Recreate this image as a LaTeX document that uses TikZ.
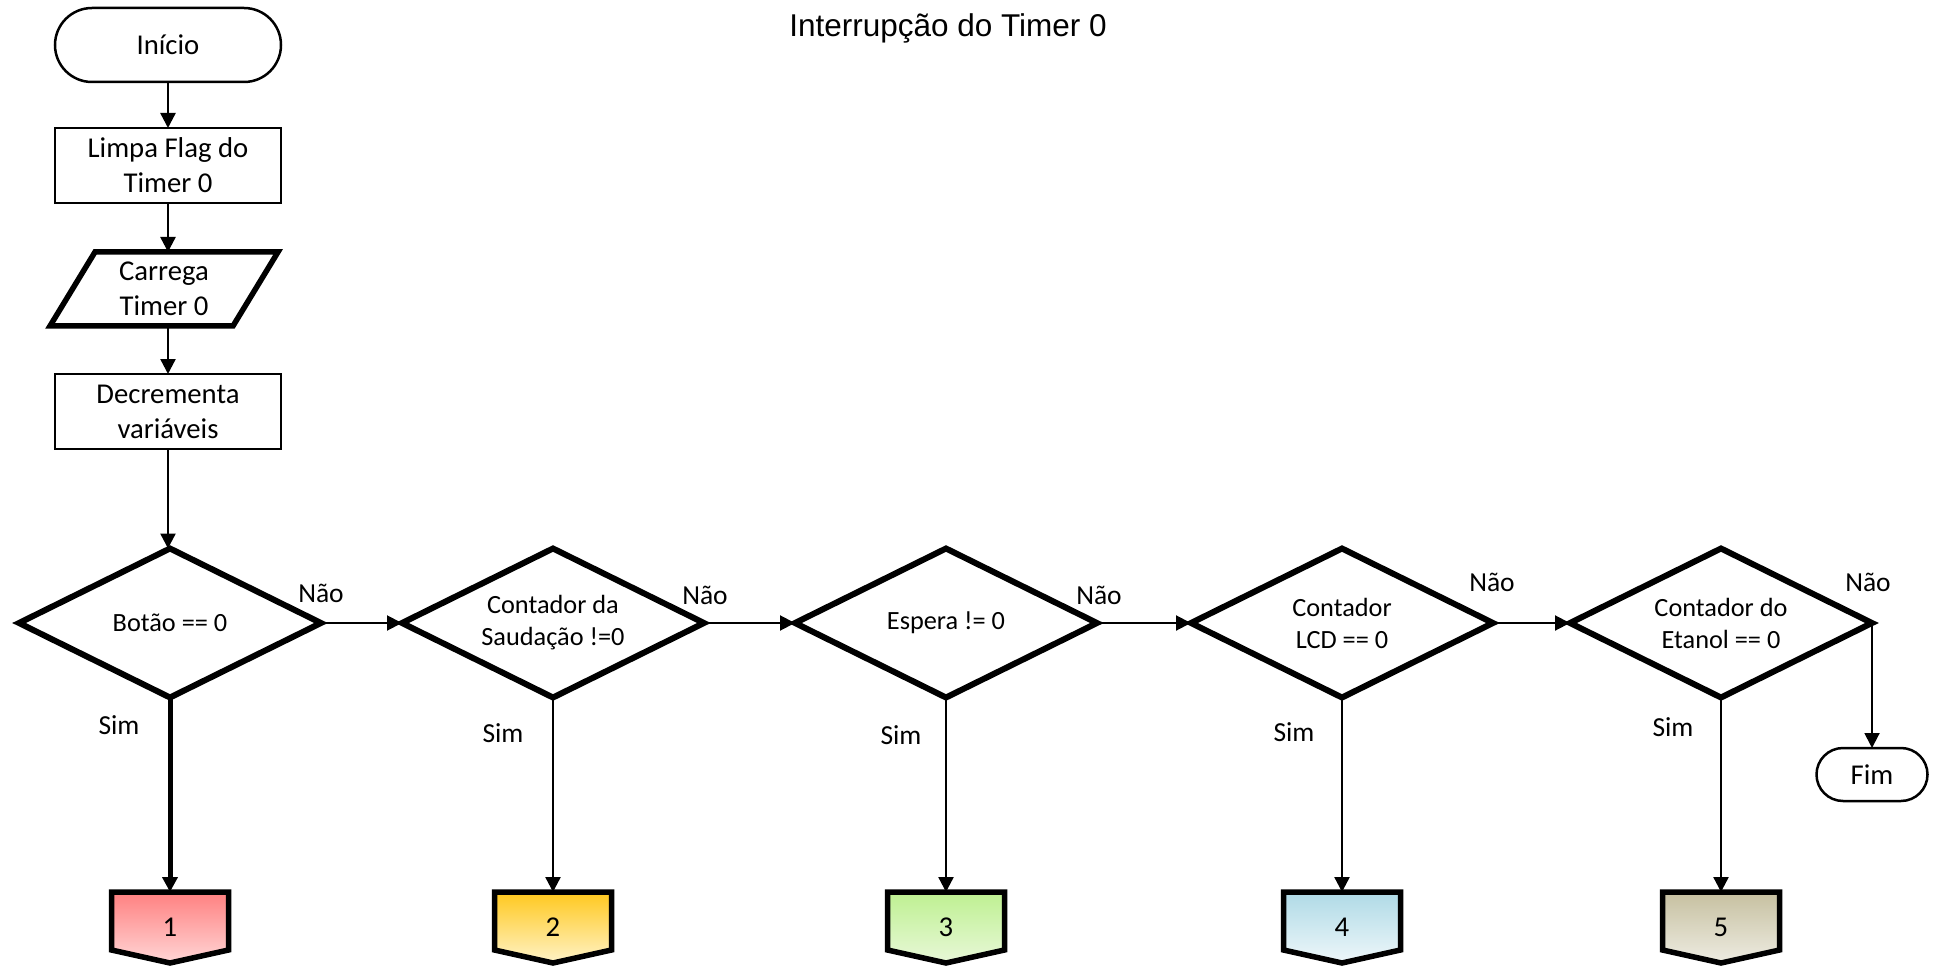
\documentclass[tikz,border=0pt]{standalone}
\usepackage{fontspec}
\setmainfont{Carlito}
\newfontfamily\titlefont{Liberation Sans}
\usetikzlibrary{shapes.geometric,arrows.meta,calc,backgrounds}

\definecolor{redtop}{RGB}{255,128,128}
\definecolor{redbot}{RGB}{255,214,214}
\definecolor{goldtop}{RGB}{255,200,30}
\definecolor{goldbot}{RGB}{255,243,200}
\definecolor{greentop}{RGB}{190,240,145}
\definecolor{greenbot}{RGB}{232,248,216}
\definecolor{bluetop}{RGB}{175,218,230}
\definecolor{bluebot}{RGB}{238,247,250}
\definecolor{taupetop}{RGB}{198,192,160}
\definecolor{taupebot}{RGB}{238,236,226}

\tikzset{
  txt/.style={font=\fontsize{28.7}{35}\selectfont, align=center, inner sep=0pt, outer sep=0pt},
  lbl/.style={font=\fontsize{27.5}{33}\selectfont, inner sep=0pt},
  terminal/.style={txt, draw, line width=2.5pt},
  procbox/.style={txt, draw, line width=2.5pt, minimum width=226pt, minimum height=75pt},
  decision/.style={diamond, draw, line width=6pt, aspect=2,
    font=\fontsize{26.3}{32}\selectfont, align=center, inner sep=0pt, outer sep=0pt,
    minimum width=302pt, minimum height=149pt},
  flow/.style={line width=2.4pt, -{Triangle[length=15pt,width=15pt]}},
  offpage/.style={txt, minimum width=117pt, minimum height=71pt},
  offshape/.style={draw, line width=5.5pt, line join=miter},
}

\newcommand{\offpagepath}[3]{%
  \begin{pgfonlayer}{background}
    \path[offshape, top color=#2, bottom color=#3]
      (#1.north west) -- (#1.north east) -- ([yshift=13pt]#1.south east)
      -- (#1.south) -- ([yshift=13pt]#1.south west) -- cycle;
  \end{pgfonlayer}}

\begin{document}
\begin{tikzpicture}[x=1pt,y=-1pt]
\useasboundingbox (0,0) rectangle (1941,968);

% title
\node[font=\titlefont\fontsize{31.5}{38}\selectfont, anchor=base, inner sep=0pt] (title) at (948,37) {Interrupção do Timer 0};

% left column
\node[terminal, minimum width=226pt, minimum height=74pt, rounded corners=37pt] (inicio) at (168,45) {Início};
\node[procbox] (limpa) at (168,165.5) {Limpa Flag do\\Timer 0};
\node[txt, minimum width=183pt, minimum height=74pt] (carrega) at (164,289) {Carrega\\Timer 0};
\draw[line width=5.5pt, line join=miter]
  ([xshift=22.5pt]carrega.north west) -- ([xshift=22.5pt]carrega.north east)
  -- ([xshift=-22.5pt]carrega.south east) -- ([xshift=-22.5pt]carrega.south west) -- cycle;
\node[procbox] (decr) at (168,411.5) {Decrementa\\variáveis};

% decisions
\node[decision] (d1) at (170,623) {Botão == 0};
\node[decision] (d2) at (553,623) {Contador da\\Saudação !=0};
\node[decision] (d3) at (946,623) {Espera != 0};
\node[decision] (d4) at (1342,623) {Contador\\LCD == 0};
\node[decision] (d5) at (1721,623) {Contador do\\Etanol == 0};

% end terminal
\node[terminal, minimum width=111pt, minimum height=53pt, rounded corners=26.5pt] (fim) at (1872,774.5) {Fim};

% off-page connectors
\node[offpage] (c1) at (170,927.5) {1};
\node[offpage] (c2) at (553,927.5) {2};
\node[offpage] (c3) at (946,927.5) {3};
\node[offpage] (c4) at (1342,927.5) {4};
\node[offpage] (c5) at (1721,927.5) {5};
\offpagepath{c1}{redtop}{redbot}
\offpagepath{c2}{goldtop}{goldbot}
\offpagepath{c3}{greentop}{greenbot}
\offpagepath{c4}{bluetop}{bluebot}
\offpagepath{c5}{taupetop}{taupebot}

% connectors
\draw[flow] (inicio) -- (limpa);
\draw[flow] (limpa.south) -- (limpa.south |- carrega.north);
\draw[flow] (carrega.south -| decr.north) -- (decr.north);
\draw[flow] (decr.south) -- (decr.south |- d1.north);

\draw[flow, line width=2pt] (d1.east) -- (d2.west);
\draw[flow, line width=2pt] (d2.east) -- (d3.west);
\draw[flow, line width=2pt] (d3.east) -- (d4.west);
\draw[flow, line width=2pt] (d4.east) -- (d5.west);
\draw[flow, line width=2pt] (d5.east) -- (d5.east |- fim.north);

\draw[flow, line width=5pt] (d1.south) -- (c1.north);
\draw[flow] (d2.south) -- (c2.north);
\draw[flow] (d3.south) -- (c3.north);
\draw[flow] (d4.south) -- (c4.north);
\draw[flow] (d5.south) -- (c5.north);

% branch labels
\node[lbl] (n1) at (321,593) {Não};
\node[lbl] (n2) at (705,595) {Não};
\node[lbl] (n3) at (1099,595) {Não};
\node[lbl] (n4) at (1492,582) {Não};
\node[lbl] (n5) at (1868,582) {Não};
\node[lbl] (s1) at (119,725) {Sim};
\node[lbl] (s2) at (503,733) {Sim};
\node[lbl] (s3) at (901,735) {Sim};
\node[lbl] (s4) at (1294,732) {Sim};
\node[lbl] (s5) at (1673,727) {Sim};
\end{tikzpicture}
\end{document}
